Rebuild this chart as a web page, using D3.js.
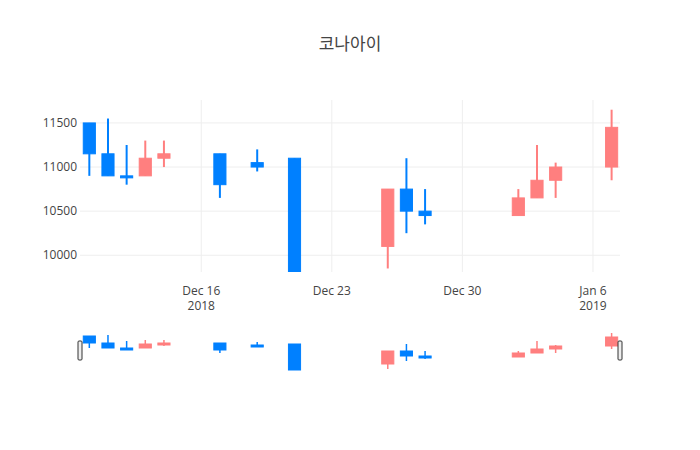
<!DOCTYPE html>
<html>
<head>
<meta charset="utf-8">
<script src="https://cdn.jsdelivr.net/npm/d3@7"></script>
<style>
  body { margin: 0; background: #fff; }
  text { font-family: "Open Sans", "Noto Sans CJK KR", sans-serif; }
</style>
</head>
<body>
<svg id="chart" width="700" height="450"></svg>
<script>
const dates = ["2018-12-10", "2018-12-11", "2018-12-12", "2018-12-13", "2018-12-14", "2018-12-17",
  "2018-12-19", "2018-12-21", "2018-12-26", "2018-12-27", "2018-12-28", "2019-01-02",
  "2019-01-03", "2019-01-04", "2019-01-07"];
const open  = [11500, 11150, 10900, 10900, 11100, 11150, 11050, 11100, 10100, 10750, 10500, 10450, 10650, 10850, 11000];
const high  = [11500, 11550, 11250, 11300, 11300, 11150, 11200, 11100, 10750, 11100, 10750, 10750, 11250, 11050, 11650];
const low   = [10900, 10900, 10800, 10900, 11000, 10650, 10950, 9800, 9850, 10250, 10350, 10450, 10650, 10650, 10850];
const close = [11150, 10900, 10890, 11100, 11150, 10800, 11000, 9800, 10750, 10500, 10450, 10650, 10850, 11000, 11450];
const yTicks = [10000, 10500, 11000, 11500];
const xTicks = [["2018-12-16", "Dec 16", "2018"], ["2018-12-23", "Dec 23", ""], ["2018-12-30", "Dec 30", ""], ["2019-01-06", "Jan 6", "2019"]];

const parse = d3.utcParse("%Y-%m-%d");
const rows = dates.map((d, i) => ({ date: parse(d), o: open[i], h: high[i], l: low[i], c: close[i] }));

const svg = d3.select("#chart");
const mLeft = 80, mRight = 620, mTop = 100, mBottom = 272;
const day = 864e5;

const x = d3.scaleUtc()
  .domain([new Date(parse("2018-12-09").getTime() + day / 2), new Date(parse("2019-01-07").getTime() + day * 0.45)])
  .range([mLeft, mRight]);
const y = d3.scaleLinear().domain([9810, 11760]).range([mBottom, mTop]);
const ys = d3.scaleLinear().domain([9800, 11650]).range([370, 333]);

const up = "#ff7f7f", down = "#0080ff";
const bw = x(new Date(x.domain()[0].getTime() + day * 0.65)) - mLeft;

// grid
svg.append("g").selectAll("line").data(yTicks).join("line")
  .attr("x1", mLeft).attr("x2", mRight).attr("y1", d => y(d)).attr("y2", d => y(d))
  .attr("stroke", "#eee");
svg.append("g").selectAll("line").data(xTicks).join("line")
  .attr("x1", d => x(parse(d[0]))).attr("x2", d => x(parse(d[0])))
  .attr("y1", mTop).attr("y2", mBottom).attr("stroke", "#eee");

// y labels
svg.append("g").selectAll("text").data(yTicks).join("text")
  .attr("x", mLeft - 3).attr("y", d => y(d) + 4).attr("text-anchor", "end")
  .attr("font-size", 12).attr("fill", "#444").text(d => d);

// x labels
const xl = svg.append("g").selectAll("g").data(xTicks).join("g");
xl.append("text").attr("x", d => x(parse(d[0]))).attr("y", mBottom + 23)
  .attr("text-anchor", "middle").attr("font-size", 12).attr("fill", "#444").text(d => d[1]);
xl.append("text").attr("x", d => x(parse(d[0]))).attr("y", mBottom + 38)
  .attr("text-anchor", "middle").attr("font-size", 12).attr("fill", "#444").text(d => d[2]);

function candles(g, yy, wickW) {
  const c = g.selectAll("g").data(rows).join("g")
    .attr("stroke", d => d.c >= d.o ? up : down)
    .attr("fill", d => d.c >= d.o ? up : down);
  c.append("line")
    .attr("x1", d => x(d.date)).attr("x2", d => x(d.date))
    .attr("y1", d => yy(d.h)).attr("y2", d => yy(d.l)).attr("stroke-width", wickW);
  c.append("rect")
    .attr("x", d => x(d.date) - bw / 2).attr("width", bw)
    .attr("y", d => yy(Math.max(d.o, d.c)))
    .attr("height", d => Math.max(2, Math.abs(yy(d.o) - yy(d.c))))
    .attr("stroke-width", 1);
}

const plot = svg.append("g");
plot.append("clipPath").attr("id", "clip").append("rect")
  .attr("x", mLeft).attr("y", mTop).attr("width", mRight - mLeft).attr("height", mBottom - mTop);
candles(plot.append("g").attr("clip-path", "url(#clip)"), y, 2);

// range slider
const slider = svg.append("g");
candles(slider.append("g"), ys, 1.5);
[mLeft, mRight].forEach(hx => {
  slider.append("rect").attr("x", hx - 2).attr("y", 341).attr("width", 4).attr("height", 19)
    .attr("rx", 1).attr("fill", "#eee").attr("stroke", "#333").attr("stroke-width", 1);
});

svg.append("text").attr("x", 350).attr("y", 50).attr("text-anchor", "middle")
  .attr("font-size", 17).attr("fill", "#444").text("코나아이");
</script>
</body>
</html>
